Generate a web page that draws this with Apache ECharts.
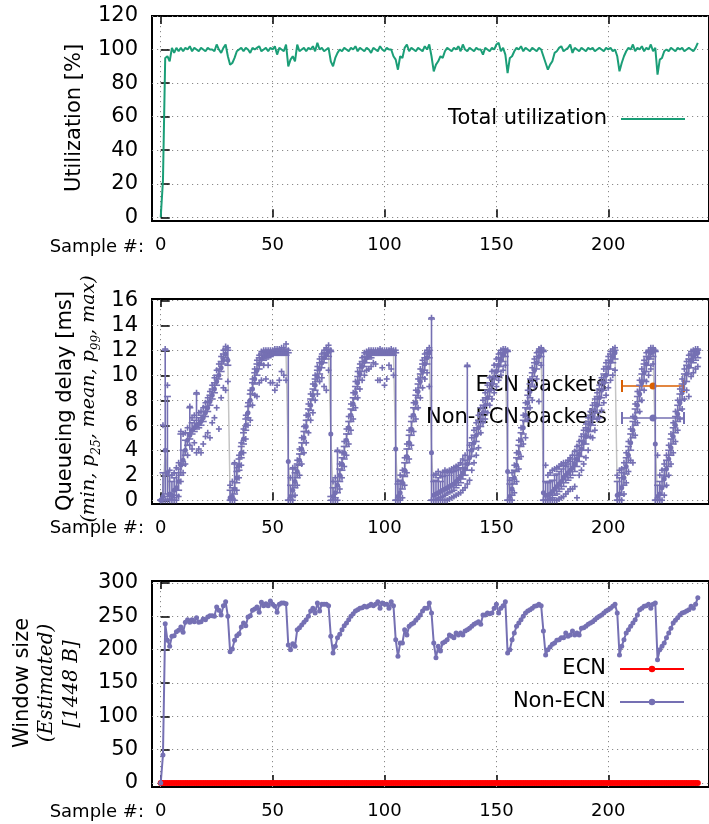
<!DOCTYPE html>
<html>
<head>
<meta charset="utf-8">
<script src="https://cdn.jsdelivr.net/npm/echarts@6/dist/echarts.min.js"></script>
<style>html,body{margin:0;padding:0;background:#fff}#c{width:709px;height:824px}</style>
</head>
<body>
<div id="c"></div>
<script>
// ---------- tick labels ----------
const sampleTicks = [0, 50, 100, 150, 200];
const utilTicks = [0, 20, 40, 60, 80, 100, 120];
const delayTicks = [0, 2, 4, 6, 8, 10, 12, 14, 16];
const windowTicks = [0, 50, 100, 150, 200, 250, 300];

// ---------- panel 1: total utilization [%] per sample ----------
const utilization = [
 0, 22, 95, 96, 93, 101, 98, 101, 99, 101,
 99, 101, 100, 102, 99, 101, 100, 99, 101, 100,
 99, 101, 100, 100, 99, 103, 100, 98, 101, 103,
 96, 91, 92, 95, 99, 100, 101, 99, 101, 100,
 98, 101, 100, 101, 102, 99, 100, 101, 99, 101,
 100, 102, 97, 101, 100, 99, 103, 90, 94, 96,
 93, 103, 99, 100, 101, 99, 101, 100, 102, 99,
 104, 100, 101, 99, 100, 101, 93, 90, 95, 98,
 100, 99, 101, 100, 99, 101, 100, 102, 99, 101,
 100, 99, 101, 100, 98, 101, 100, 99, 102, 100,
 99, 101, 100, 100, 96, 94, 88, 96, 95, 101,
 103, 99, 101, 100, 99, 101, 100, 99, 102, 100,
 103, 96, 87, 91, 93, 96, 95, 99, 101, 100,
 99, 101, 100, 102, 99, 103, 100, 99, 101, 100,
 99, 101, 100, 100, 97, 101, 100, 99, 101, 100,
 103, 104, 99, 101, 97, 86, 95, 96, 99, 101,
 100, 102, 99, 101, 100, 99, 101, 100, 99, 101,
 100, 96, 92, 88, 91, 93, 98, 99, 101, 102,
 99, 100, 101, 103, 98, 101, 100, 99, 101, 100,
 99, 101, 100, 101, 99, 100, 101, 100, 99, 101,
 100, 101, 99, 100, 96, 87, 92, 96, 99, 101,
 100, 103, 99, 101, 100, 102, 99, 101, 100, 103,
 99, 101, 85, 94, 95, 99, 100, 99, 101, 100,
 99, 101, 100, 101, 99, 100, 101, 100, 99, 101, 104
];

// ---------- panel 2: queueing delay [ms], Non-ECN packets ----------
const qMin = [
 0, 0, 0, 0, 0, 0, 0, 0, 0.3, 1.5,
 2.2, 2.9, 3.6, 4.4, 4.1, 4.6, 3.8, 4.1, 3.8, 4.5,
 5.1, 5.4, 5.0, 6.2, 6.6, 7.4, 5.7, 8.2, 9.0, 8.8,
 9.5, 0, 0, 0, 0.8, 1.8, 2.8, 3.8, 4.9, 6.0,
 6.4, 7.6, 8.4, 8.3, 9.4, 9.6, 10.8, 9.7, 10.8, 9.4,
 9.4, 8.8, 9.2, 9.6, 10.3, 10.0, 9.6, 0, 0, 0,
 0.4, 1.2, 2.0, 2.9, 3.8, 4.6, 5.4, 6.4, 7.0, 8.0,
 8.5, 9.5, 9.8, 9.1, 8.8, 10.4, 0, 0, 0, 0,
 0.9, 1.8, 2.7, 3.6, 4.5, 5.6, 6.5, 7.4, 8.2, 8.9,
 9.6, 10.0, 10.4, 10.5, 10.7, 11.0, 10.9, 9.6, 9.6, 10.6,
 9.2, 9.7, 10.8, 10.5, 10.0, 0, 0, 0, 0.2, 1.2,
 2.2, 3.3, 4.4, 5.5, 6.5, 7.4, 8.2, 9.0, 9.7, 10.2,
 9.1, 0, 0, 0, 0, 0, 0, 0, 0, 0.1,
 0.2, 0.3, 0.4, 0.5, 0.6, 0.8, 1.0, 1.3, 1.6, 2.4,
 3.0, 3.6, 4.2, 5.4, 6.2, 6.5, 7.0, 7.6, 8.1, 8.6,
 9.1, 9.6, 10.0, 10.4, 10.8, 0, 0, 0, 0.6, 1.5,
 2.5, 3.5, 4.5, 5.0, 6.5, 7.4, 8.0, 9.1, 9.7, 7.9,
 10.8, 0, 0, 0, 0, 0, 0, 0, 0.1, 0.2,
 0.3, 0.5, 0.7, 0.9, 0.9, 1.1, 0.2, 2.0, 2.4, 2.9,
 3.4, 4.0, 5.1, 5.0, 5.6, 6.5, 6.6, 7.2, 7.8, 8.4,
 9.0, 9.6, 10.0, 10.4, 0, 0, 0, 0.5, 1.4, 2.3,
 3.2, 3.0, 5.2, 6.2, 7.1, 8.0, 8.8, 9.5, 10.0, 10.5,
 10.9, 0, 0, 0, 0, 0.4, 1.2, 2.0, 2.9, 3.8,
 4.7, 5.6, 6.5, 7.3, 8.1, 8.8, 8.3, 9.9, 10.2, 10.5, 10.7
];
const qP25 = [
 0, 0, 0.5, 0.3, 0.1, 0, 0.2, 0.4, 0.8, 2.0,
 2.8, 3.6, 4.4, 4.9, 5.3, 5.5, 5.7, 5.8, 6.0, 6.3,
 6.7, 7.1, 7.6, 8.1, 8.6, 9.2, 9.7, 10.3, 10.9, 11.4,
 10.8, 0, 0.1, 0.5, 1.4, 2.4, 3.4, 4.5, 5.6, 6.6,
 7.6, 8.5, 9.3, 10.0, 10.5, 10.9, 11.2, 11.3, 11.4, 11.5,
 11.6, 11.6, 11.6, 11.6, 11.6, 11.6, 11.6, 0, 0, 0.3,
 1.0, 1.8, 2.8, 3.7, 4.6, 5.5, 6.4, 7.2, 8.0, 8.8,
 9.5, 10.1, 10.6, 11.0, 11.3, 11.5, 0.3, 0, 0.2, 0.6,
 1.5, 2.4, 3.3, 4.3, 5.3, 6.3, 7.2, 8.1, 8.9, 9.6,
 10.3, 10.7, 11.0, 11.3, 11.4, 11.6, 11.6, 11.6, 11.6, 11.6,
 11.6, 11.6, 11.6, 11.6, 11.6, 0, 0, 0.2, 0.9, 1.9,
 3.0, 4.1, 5.2, 6.3, 7.3, 8.2, 9.0, 9.8, 10.4, 10.9,
 11.4, 0, 0, 0, 0.1, 0.2, 0.3, 0.4, 0.5, 0.6,
 0.7, 0.8, 1.0, 1.2, 1.4, 1.7, 2.0, 2.4, 2.9, 3.5,
 4.1, 4.7, 5.3, 5.9, 6.5, 7.1, 7.7, 8.3, 8.8, 9.3,
 9.8, 10.3, 10.7, 11.1, 11.5, 0, 0, 0.4, 1.3, 2.3,
 3.3, 4.3, 5.3, 6.3, 7.3, 8.2, 9.1, 9.9, 10.5, 11.0,
 11.5, 0, 0, 0, 0.1, 0.2, 0.4, 0.5, 0.7, 0.9,
 1.1, 1.4, 1.6, 1.8, 2.0, 2.3, 2.7, 3.1, 3.5, 4.0,
 4.5, 5.0, 5.5, 6.0, 6.5, 7.0, 7.6, 8.2, 8.8, 9.4,
 10.0, 10.5, 11.0, 11.3, 0, 0, 0.4, 1.2, 2.1, 3.0,
 4.0, 5.0, 6.0, 7.0, 7.9, 8.8, 9.6, 10.3, 10.8, 11.3,
 11.5, 0, 0, 0, 0.4, 1.1, 1.9, 2.7, 3.6, 4.5,
 5.4, 6.3, 7.2, 8.0, 8.8, 9.5, 10.1, 10.6, 11.0, 11.2, 11.4
];
const qMean = [
 0.0, 0.3, 4.0, 2.2, 0.5, 0.4, 0.8, 1.0, 1.5, 2.8,
 3.2, 4.0, 4.8, 5.2, 5.6, 5.8, 6.0, 6.1, 6.3, 6.6,
 7.0, 7.4, 7.9, 8.4, 8.9, 9.5, 10.0, 10.6, 11.2, 11.7,
 11.2, 0.2, 0.3, 0.9, 1.8, 2.8, 3.8, 4.9, 6.0, 7.0,
 8.0, 8.9, 9.7, 10.4, 10.9, 11.3, 11.5, 11.6, 11.7, 11.7,
 11.8, 11.8, 11.8, 11.8, 11.8, 11.8, 11.8, 3.1, 0.3, 0.8,
 1.5, 2.3, 3.2, 4.1, 5.0, 5.9, 6.8, 7.6, 8.4, 9.2,
 9.9, 10.5, 11.0, 11.4, 11.7, 11.9, 5.3, 0.3, 0.6, 1.2,
 2.0, 2.9, 3.8, 4.8, 5.8, 6.8, 7.7, 8.6, 9.4, 10.1,
 10.7, 11.1, 11.4, 11.6, 11.7, 11.8, 11.8, 11.8, 11.8, 11.8,
 11.8, 11.8, 11.8, 11.8, 11.8, 4.1, 0.3, 0.6, 1.4, 2.4,
 3.5, 4.6, 5.7, 6.8, 7.8, 8.7, 9.5, 10.3, 10.9, 11.4,
 11.8, 3.8, 0.4, 0.5, 0.6, 0.7, 0.8, 0.9, 1.0, 1.1,
 1.2, 1.3, 1.5, 1.7, 1.9, 2.2, 2.5, 2.9, 3.4, 4.0,
 4.6, 5.2, 5.8, 6.4, 7.0, 7.6, 8.2, 8.8, 9.3, 9.8,
 10.3, 10.8, 11.2, 11.6, 11.9, 2.3, 0.3, 0.9, 1.8, 2.8,
 3.8, 4.8, 5.8, 6.8, 7.8, 8.7, 9.6, 10.4, 11.0, 11.5,
 11.9, 0.6, 0.4, 0.4, 0.5, 0.7, 0.9, 1.1, 1.3, 1.5,
 1.8, 2.0, 2.2, 2.4, 2.6, 2.9, 3.3, 3.7, 4.1, 4.6,
 5.1, 5.6, 6.1, 6.6, 7.1, 7.6, 8.2, 8.8, 9.4, 10.0,
 10.6, 11.1, 11.5, 11.8, 0.4, 0.5, 1.0, 1.8, 2.7, 3.6,
 4.6, 5.6, 6.6, 7.6, 8.5, 9.4, 10.2, 10.9, 11.4, 11.8,
 11.9, 4.5, 0.3, 0.5, 1.0, 1.7, 2.5, 3.3, 4.2, 5.1,
 6.0, 6.9, 7.8, 8.6, 9.4, 10.1, 10.7, 11.2, 11.5, 11.7, 11.8
];
const qP99 = [
 0, 2.2, 12.0, 8.3, 2.0, 1.5, 1.8, 2.2, 2.5, 5.3,
 4.0, 4.8, 5.4, 7.4, 6.2, 6.4, 8.5, 6.6, 6.8, 7.1,
 7.5, 7.9, 8.4, 8.9, 9.4, 10.0, 10.5, 11.1, 11.7, 12.1,
 12.0, 0.8, 1.0, 2.9, 2.3, 3.3, 4.3, 5.4, 6.5, 7.5,
 8.5, 9.4, 10.2, 10.9, 11.4, 11.7, 11.8, 11.9, 11.9, 11.9,
 11.9, 12.0, 12.0, 12.0, 12.0, 12.0, 12.1, 11.8, 1.2, 2.5,
 2.2, 2.9, 3.7, 4.6, 5.5, 6.4, 7.3, 8.1, 8.9, 9.7,
 10.4, 11.0, 11.5, 11.8, 12.0, 12.1, 11.9, 1.0, 1.5, 3.9,
 2.5, 3.4, 4.3, 5.3, 6.3, 7.3, 8.2, 9.1, 9.9, 10.6,
 11.1, 11.5, 11.7, 11.8, 11.9, 11.9, 11.9, 11.9, 11.9, 11.9,
 11.9, 11.9, 11.9, 11.9, 11.9, 11.8, 1.3, 1.6, 2.0, 3.0,
 4.1, 5.2, 6.3, 7.4, 8.4, 9.3, 10.1, 10.9, 11.4, 11.8,
 12.0, 14.5, 1.5, 1.6, 1.8, 1.5, 1.9, 2.3, 2.0, 2.2,
 2.3, 2.3, 2.4, 2.5, 2.6, 2.9, 3.2, 10.7, 4.0, 4.6,
 5.2, 5.8, 6.4, 7.0, 7.6, 8.2, 8.8, 9.4, 9.9, 10.4,
 10.9, 11.4, 11.8, 12.0, 12.0, 11.9, 1.3, 1.8, 2.4, 3.4,
 4.4, 5.4, 6.4, 7.4, 8.4, 9.3, 10.2, 11.0, 11.5, 11.9,
 12.1, 11.9, 1.5, 1.4, 1.5, 1.6, 2.0, 2.1, 2.3, 2.5,
 2.8, 2.7, 2.9, 3.1, 3.3, 3.6, 4.0, 4.4, 4.8, 5.3,
 5.8, 6.3, 6.8, 7.3, 7.8, 8.3, 8.9, 9.5, 10.1, 10.7,
 11.2, 11.7, 11.9, 12.0, 1.5, 1.8, 2.2, 2.6, 3.4, 4.3,
 5.3, 6.3, 7.3, 8.3, 9.2, 10.1, 10.9, 11.5, 11.9, 12.0,
 12.1, 11.9, 1.2, 1.5, 2.0, 2.5, 3.2, 4.0, 4.9, 5.8,
 6.7, 7.6, 8.5, 9.3, 10.1, 10.8, 11.3, 11.7, 11.9, 12.0, 12.0
];
const qMax = [
 0, 6.0, 12.1, 9.2, 2.4, 2.0, 2.2, 2.6, 3.0, 5.5,
 5.3, 5.4, 5.8, 7.5, 6.6, 6.8, 8.6, 7.0, 7.1, 7.4,
 7.8, 8.2, 8.7, 9.2, 9.8, 10.4, 10.9, 11.5, 12.0, 12.3,
 12.2, 1.2, 1.5, 3.0, 2.6, 3.6, 4.6, 5.7, 6.8, 7.8,
 8.8, 9.7, 10.5, 11.2, 11.6, 11.9, 12.0, 12.0, 12.0, 12.0,
 12.0, 12.1, 12.1, 12.1, 12.2, 12.2, 12.5, 12.0, 1.8, 2.6,
 2.6, 3.2, 4.1, 5.0, 5.9, 6.8, 7.7, 8.5, 9.3, 10.0,
 10.7, 11.3, 11.7, 12.0, 12.2, 12.4, 12.0, 1.5, 1.8, 4.0,
 2.9, 3.8, 4.7, 5.7, 6.7, 7.7, 8.6, 9.5, 10.3, 10.9,
 11.4, 11.8, 11.9, 12.0, 12.0, 12.0, 12.0, 12.0, 12.1, 12.0,
 12.0, 12.0, 12.0, 12.1, 12.0, 12.0, 1.5, 2.0, 2.4, 3.4,
 4.5, 5.6, 6.7, 7.8, 8.8, 9.7, 10.5, 11.2, 11.7, 12.0,
 12.2, 14.6, 2.0, 2.1, 2.3, 2.0, 2.2, 2.4, 2.3, 2.4,
 2.5, 2.6, 2.7, 2.8, 3.0, 3.3, 3.6, 10.8, 4.4, 5.0,
 5.6, 6.2, 6.8, 7.4, 8.0, 8.6, 9.2, 9.8, 10.3, 10.8,
 11.3, 11.7, 12.0, 12.1, 12.1, 12.0, 1.6, 2.2, 2.8, 3.8,
 4.8, 5.8, 6.8, 7.8, 8.8, 9.7, 10.6, 11.3, 11.8, 12.1,
 12.2, 12.0, 2.8, 2.0, 2.2, 2.4, 2.5, 2.6, 2.7, 2.9,
 3.0, 3.0, 3.2, 3.4, 3.6, 3.9, 4.3, 4.7, 5.1, 5.6,
 6.1, 6.6, 7.1, 7.6, 8.1, 8.6, 9.2, 9.8, 10.5, 11.0,
 11.5, 11.9, 12.1, 12.2, 2.0, 2.4, 2.5, 3.0, 3.8, 4.7,
 5.7, 6.7, 7.7, 8.7, 9.6, 10.5, 11.2, 11.8, 12.0, 12.2,
 12.2, 12.0, 3.6, 2.0, 2.4, 2.9, 3.6, 4.4, 5.3, 6.2,
 7.1, 8.0, 8.9, 9.7, 10.5, 11.1, 11.6, 11.9, 12.0, 12.1, 12.1
];
// ECN packets: none observed in this run
const ecnDelay = [];

// ---------- panel 3: estimated window size [1448 B] ----------
const windowEcn = [
 0, 0, 0, 0, 0, 0, 0, 0, 0, 0,
 0, 0, 0, 0, 0, 0, 0, 0, 0, 0,
 0, 0, 0, 0, 0, 0, 0, 0, 0, 0,
 0, 0, 0, 0, 0, 0, 0, 0, 0, 0,
 0, 0, 0, 0, 0, 0, 0, 0, 0, 0,
 0, 0, 0, 0, 0, 0, 0, 0, 0, 0,
 0, 0, 0, 0, 0, 0, 0, 0, 0, 0,
 0, 0, 0, 0, 0, 0, 0, 0, 0, 0,
 0, 0, 0, 0, 0, 0, 0, 0, 0, 0,
 0, 0, 0, 0, 0, 0, 0, 0, 0, 0,
 0, 0, 0, 0, 0, 0, 0, 0, 0, 0,
 0, 0, 0, 0, 0, 0, 0, 0, 0, 0,
 0, 0, 0, 0, 0, 0, 0, 0, 0, 0,
 0, 0, 0, 0, 0, 0, 0, 0, 0, 0,
 0, 0, 0, 0, 0, 0, 0, 0, 0, 0,
 0, 0, 0, 0, 0, 0, 0, 0, 0, 0,
 0, 0, 0, 0, 0, 0, 0, 0, 0, 0,
 0, 0, 0, 0, 0, 0, 0, 0, 0, 0,
 0, 0, 0, 0, 0, 0, 0, 0, 0, 0,
 0, 0, 0, 0, 0, 0, 0, 0, 0, 0,
 0, 0, 0, 0, 0, 0, 0, 0, 0, 0,
 0, 0, 0, 0, 0, 0, 0, 0, 0, 0,
 0, 0, 0, 0, 0, 0, 0, 0, 0, 0,
 0, 0, 0, 0, 0, 0, 0, 0, 0, 0, 0
];
const windowNonEcn = [
 0, 42, 239, 214, 205, 220, 221, 227, 229, 234,
 226, 241, 245, 241, 245, 242, 248, 241, 242, 246,
 245, 249, 251, 251, 250, 264, 259, 252, 266, 272,
 250, 197, 201, 214, 221, 224, 234, 240, 236, 249,
 251, 259, 261, 264, 256, 271, 266, 269, 266, 273,
 268, 265, 256, 268, 270, 270, 269, 207, 200, 209,
 205, 230, 233, 237, 241, 245, 250, 258, 262, 255,
 270, 258, 268, 268, 268, 266, 220, 195, 205, 218,
 223, 230, 236, 240, 245, 250, 254, 258, 260, 262,
 263, 265, 264, 266, 268, 266, 268, 272, 262, 270,
 268, 268, 262, 272, 266, 215, 190, 210, 210, 230,
 222, 235, 238, 240, 244, 248, 252, 258, 262, 262,
 270, 255, 210, 188, 205, 198, 210, 212, 215, 222,
 220, 218, 225, 222, 225, 222, 228, 230, 232, 235,
 238, 240, 242, 238, 252, 252, 255, 254, 255, 262,
 268, 255, 262, 266, 272, 195, 200, 215, 225, 235,
 240, 245, 250, 255, 258, 260, 262, 265, 266, 268,
 266, 228, 192, 200, 204, 208, 210, 214, 215, 218,
 218, 225, 220, 222, 228, 222, 225, 222, 232, 233,
 235, 238, 240, 242, 245, 248, 250, 252, 255, 258,
 260, 262, 265, 268, 255, 192, 205, 215, 225, 230,
 235, 240, 245, 252, 260, 262, 265, 266, 268, 262,
 268, 270, 185, 200, 205, 210, 218, 225, 232, 240,
 244, 248, 252, 255, 256, 258, 260, 265, 262, 268, 278
];

// ---------- styling ----------
const GREEN = '#1b9e77', ORANGE = '#d95f02', PURPLE = '#7570b3', RED = '#ff0000';
const GREY = '#c4c4c4';
const SANS = '"DejaVu Sans"';
const SERIF = '"DejaVu Serif"';
const ERR_ICON = 'path://M0,0H2V12H0Z M62,0H64V12H62Z M0,5.2H64V6.8H0Z M28.5,6A3.5,3.5,0,1,1,35.5,6A3.5,3.5,0,1,1,28.5,6Z';
const LINE_ICON = 'path://M0,0H64V2H0Z';

const xy = arr => arr.map((v, i) => [i, v]);
const errData = qMean.map((m, i) => [i, qMin[i], qP25[i], m, qP99[i], qMax[i]]);

const X_MIN = -3.9, X_MAX = 245;
const grids = [
  { left: 152, width: 561, top: 16, height: 205 },
  { left: 152, width: 561, top: 299, height: 205 },
  { left: 152, width: 561, top: 581, height: 206 }
].map(g => Object.assign(g, { show: true, borderColor: '#000', borderWidth: 2, backgroundColor: 'transparent' }));

const dotted = { color: '#8a8a8a', type: [1.2, 3.8], width: 1 };

function xAxesFor(gi) {
  return [
    {
      type: 'value', gridIndex: gi, min: X_MIN, max: X_MAX, position: 'bottom',
      axisLine: { show: false },
      axisTick: { show: true, inside: true, length: 8, customValues: sampleTicks, lineStyle: { color: '#000', width: 1.5 } },
      axisLabel: { customValues: sampleTicks, fontFamily: 'DejaVu Sans', fontSize: 18, color: '#000', margin: 15 },
      splitLine: { show: true, lineStyle: dotted }
    },
    {
      type: 'value', gridIndex: gi, min: X_MIN, max: X_MAX, position: 'top',
      axisLine: { show: false },
      axisTick: { show: true, inside: true, length: 8, customValues: sampleTicks, lineStyle: { color: '#000', width: 1.5 } },
      axisLabel: { show: false },
      splitLine: { show: false }
    }
  ];
}
function yAxisFor(gi, min, max, ticks) {
  return {
    type: 'value', gridIndex: gi, min: min, max: max,
    axisLine: { show: false },
    axisTick: { show: true, inside: true, length: 9, customValues: ticks, lineStyle: { color: '#000', width: 1.5 } },
    axisLabel: { customValues: ticks, fontFamily: 'DejaVu Sans', fontSize: 21, color: '#000', margin: 14 },
    splitLine: { show: true, lineStyle: dotted }
  };
}

function errRender(color) {
  return function (params, api) {
    const x = api.value(0);
    const c = v => api.coord([x, v]);
    const pMin = c(api.value(1)), p25 = c(api.value(2)), p99 = c(api.value(4)), pMax = c(api.value(5));
    const st = { stroke: color, lineWidth: 1.6, fill: null };
    const hl = (p, w) => ({ type: 'line', shape: { x1: p[0] - w, y1: p[1], x2: p[0] + w, y2: p[1] }, style: st });
    const vl = (x1, y1, x2, y2) => ({ type: 'line', shape: { x1: x1, y1: y1, x2: x2, y2: y2 }, style: st });
    const plus = p => [hl(p, 3), vl(p[0], p[1] - 3, p[0], p[1] + 3)];
    return {
      type: 'group',
      children: [vl(p25[0], p25[1], p99[0], p99[1]), hl(p25, 3.5), hl(p99, 3.5)].concat(plus(pMin), plus(pMax))
    };
  };
}

const legendText = { fontFamily: 'DejaVu Sans', fontSize: 21, color: '#000', lineHeight: 24, padding: [0, 9, 0, 0] };
const legendBase = { orient: 'vertical', align: 'right', right: 24, itemWidth: 64, itemHeight: 12, padding: 0, selectedMode: false, textStyle: legendText };

const rotText = (x, y, style) => ({ type: 'text', x: x, y: y, rotation: Math.PI / 2, style: Object.assign({ fill: '#000', align: 'center', verticalAlign: 'middle' }, style) });
const sampleLabel = y => ({ type: 'text', x: 144, y: y, style: { text: 'Sample #:', font: '18px ' + SANS, fill: '#000', align: 'right', verticalAlign: 'middle' } });

const option = {
  animation: false,
  backgroundColor: '#fff',
  grid: grids,
  xAxis: [].concat(xAxesFor(0), xAxesFor(1), xAxesFor(2)),
  yAxis: [
    yAxisFor(0, -2.2, 120, utilTicks),
    yAxisFor(1, -0.3, 16.1, delayTicks),
    yAxisFor(2, -6, 303, windowTicks)
  ],
  legend: [
    Object.assign({}, legendBase, { top: 107, data: [{ name: 'Total utilization', icon: LINE_ICON, itemStyle: { color: GREEN } }] }),
    Object.assign({}, legendBase, { top: 374, itemGap: 8, data: [
      { name: 'ECN packets', icon: ERR_ICON, itemStyle: { color: ORANGE } },
      { name: 'Non-ECN packets', icon: ERR_ICON, itemStyle: { color: PURPLE } }
    ] }),
    Object.assign({}, legendBase, { top: 657, itemGap: 9, itemHeight: 8, data: [{ name: 'ECN' }, { name: 'Non-ECN' }] })
  ],
  graphic: [
    sampleLabel(247), sampleLabel(528), sampleLabel(812),
    rotText(75, 118, { text: 'Utilization [%]', font: '21px ' + SANS }),
    rotText(66, 401, { text: 'Queueing delay [ms]', font: '21px ' + SANS }),
    rotText(93, 399, {
      text: '{i|(min, p}{s|25}{i|, mean, p}{s|99}{i|, max)}',
      rich: {
        i: { fontFamily: 'DejaVu Serif', fontStyle: 'italic', fontSize: 19, lineHeight: 19, verticalAlign: 'bottom', padding: [0, 0, 4, 0] },
        s: { fontFamily: 'DejaVu Serif', fontStyle: 'italic', fontSize: 12, lineHeight: 12, verticalAlign: 'bottom' }
      }
    }),
    rotText(23, 683, { text: 'Window size', font: '21px ' + SANS }),
    rotText(47, 683, { text: '(Estimated)', font: 'italic 20px ' + SERIF }),
    rotText(72, 684, { text: '[1448 B]', font: 'italic 20px ' + SERIF })
  ],
  series: [
    {
      name: 'Total utilization', type: 'line', xAxisIndex: 0, yAxisIndex: 0,
      data: xy(utilization), symbol: 'none', color: GREEN,
      lineStyle: { color: GREEN, width: 2 }, z: 3
    },
    {
      name: 'ECN packets', type: 'custom', xAxisIndex: 2, yAxisIndex: 1,
      data: ecnDelay, itemStyle: { color: ORANGE }, renderItem: errRender(ORANGE),
      encode: { x: 0, y: [1, 2, 3, 4, 5] }, z: 4
    },
    {
      name: 'Non-ECN packets', type: 'custom', xAxisIndex: 2, yAxisIndex: 1,
      data: errData, itemStyle: { color: PURPLE }, renderItem: errRender(PURPLE),
      encode: { x: 0, y: [1, 2, 3, 4, 5] }, z: 4
    },
    {
      name: 'Non-ECN packets', type: 'line', xAxisIndex: 2, yAxisIndex: 1,
      data: xy(qMean), symbol: 'circle', symbolSize: 5, showSymbol: true,
      itemStyle: { color: PURPLE }, lineStyle: { color: GREY, width: 1.5 }, z: 3
    },
    {
      name: 'ECN', type: 'line', xAxisIndex: 4, yAxisIndex: 2,
      data: xy(windowEcn), symbol: 'circle', symbolSize: 6, showSymbol: true,
      itemStyle: { color: RED }, lineStyle: { color: RED, width: 3 }, z: 3
    },
    {
      name: 'Non-ECN', type: 'line', xAxisIndex: 4, yAxisIndex: 2,
      data: xy(windowNonEcn), symbol: 'circle', symbolSize: 5, showSymbol: true,
      itemStyle: { color: PURPLE }, lineStyle: { color: PURPLE, width: 2 }, z: 4
    }
  ]
};

const chart = echarts.init(document.getElementById('c'), null, { renderer: 'canvas' });
chart.setOption(option);
</script>
</body>
</html>
